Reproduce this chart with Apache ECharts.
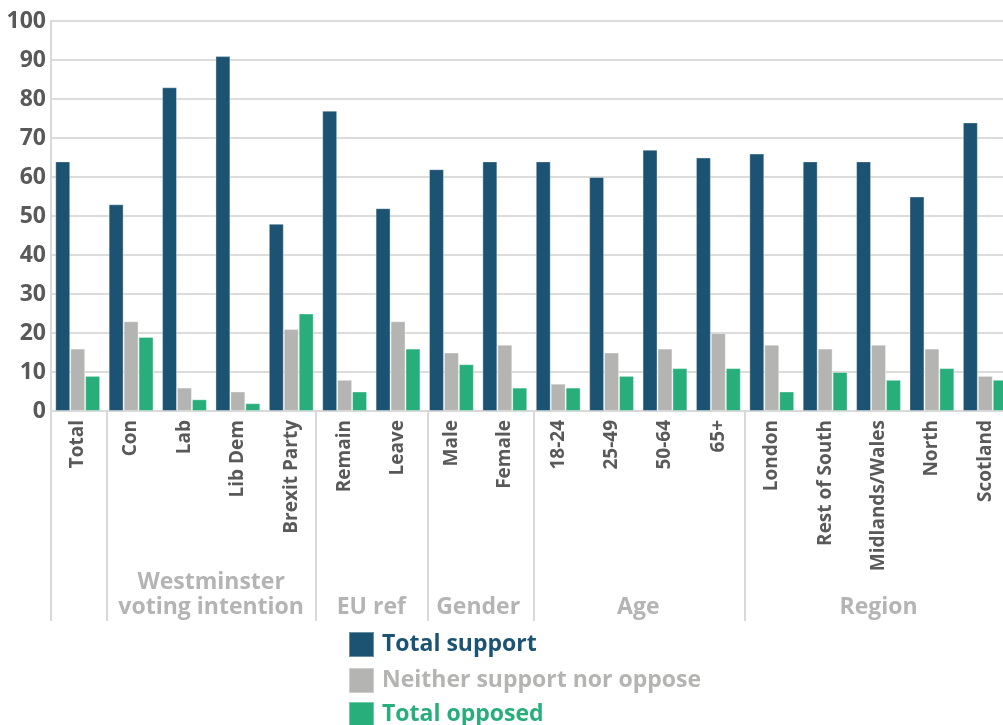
<!DOCTYPE html>
<html><head><meta charset="utf-8">
<script src="https://cdn.jsdelivr.net/npm/echarts@6/dist/echarts.min.js"></script>
<style>html,body{margin:0;padding:0;background:#fff;overflow:hidden;width:1003px;height:725px}#c{width:1012px;height:725px}</style>
</head><body><div id="c"></div>
<script>
const categories = ['Total','Con','Lab','Lib Dem','Brexit Party','Remain','Leave','Male','Female','18-24','25-49','50-64','65+','London','Rest of South','Midlands/Wales','North','Scotland'];
const totalSupport = [64,53,83,91,48,77,52,62,64,64,60,67,65,66,64,64,55,74];
const neither      = [16,23,6,5,21,8,23,15,17,7,15,16,20,17,16,17,16,9];
const totalOpposed = [9,19,3,2,25,5,16,12,6,6,9,11,11,5,10,8,11,8];
const groupNames  = ['', 'Westminster\nvoting intention', 'EU ref', 'Gender', 'Age', 'Region'];
const groupStarts = [0, 1, 5, 7, 9, 13];
const groupSizes  = [1, 4, 2, 2, 4, 5];
const seriesNames = ['Total support','Neither support nor oppose','Total opposed'];
const colors = ['#1c5373','#b4b4b2','#28ae7b'];
const yTicks = [0,10,20,30,40,50,60,70,80,90,100];

const FONT = 'Open Sans';
// fine helper axis: SUB steps per category, used for group separators and group titles
const SUB = 20;
const sepNudge = [0, 0.07, -0.03, 0.06, 0.03, 0.02]; // hand-drawn separators sit slightly off the boundaries
const fineCats = [];
for (let i = 0; i <= categories.length * SUB; i++) fineCats.push('');
groupStarts.forEach((s, g) => {
  fineCats[Math.round((s + groupSizes[g] / 2) * SUB)] = groupNames[g];
});
const sepIdx = new Set(groupStarts.map((s, g) => Math.round((s + sepNudge[g]) * SUB)));

const legendTops = [631, 667, 701];
const chart = echarts.init(document.getElementById('c'), null, {renderer: 'canvas'});
chart.setOption({
  animation: false,
  textStyle: {fontFamily: FONT},
  grid: {left: 51, right: 0, top: 21, bottom: 314, containLabel: false},
  legend: seriesNames.map((n, i) => ({
    orient: 'vertical', left: 348, top: legendTops[i], icon: 'rect',
    itemWidth: 25, itemHeight: 25, itemGap: 8, padding: 0,
    data: [{name: n, textStyle: {color: colors[i], fontSize: 23, fontWeight: 'bold', fontFamily: FONT, padding: [0, 0, 0, 3]}}]
  })),
  xAxis: [{
    type: 'category', data: categories, position: 'bottom',
    axisLine: {show: true, lineStyle: {color: '#d9d9d9', width: 2}},
    axisTick: {show: false},
    axisLabel: {rotate: 90, interval: 0, fontSize: 19, fontWeight: 'bold', color: '#595959', margin: 9, fontFamily: FONT}
  }, {
    type: 'category', data: fineCats, position: 'bottom', boundaryGap: false,
    axisLine: {show: false},
    axisTick: {show: true, length: 210, interval: (i) => sepIdx.has(i), lineStyle: {color: '#d9d9d9', width: 2}},
    axisLabel: {interval: (i, v) => v !== '', fontSize: 23, fontWeight: 'bold', color: '#b4b4b4', margin: 209, verticalAlign: 'bottom', lineHeight: 25, align: 'center', fontFamily: FONT}
  }],
  yAxis: {
    type: 'value', min: yTicks[0], max: yTicks[yTicks.length - 1], interval: 10,
    axisLine: {show: true, lineStyle: {color: '#d9d9d9', width: 2}},
    axisTick: {show: false},
    splitLine: {lineStyle: {color: '#dcdcdc', width: 2}},
    axisLabel: {fontSize: 23, fontWeight: 'bold', color: '#595959', margin: 5, fontFamily: FONT}
  },
  series: [totalSupport, neither, totalOpposed].map((d, i) => ({
    name: seriesNames[i], type: 'bar', data: d, xAxisIndex: 0,
    barGap: '0%', barCategoryGap: '16%',
    itemStyle: {color: colors[i], borderColor: 'rgba(255,255,255,0.35)', borderWidth: 1}
  }))
});
</script></body></html>
